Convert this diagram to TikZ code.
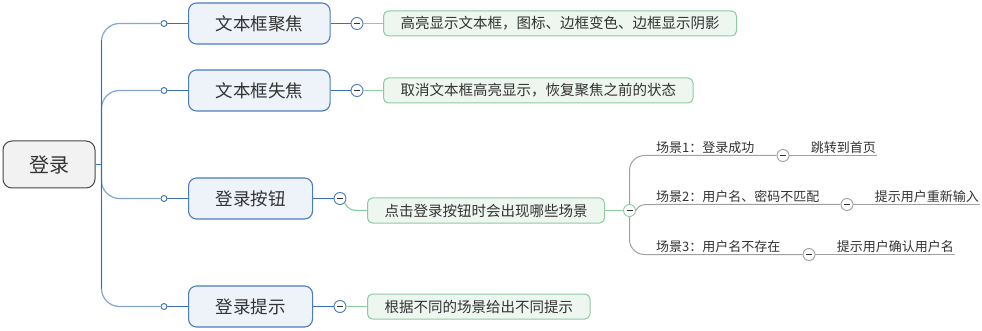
\documentclass[tikz,border=0pt]{standalone}
\usepackage{fontspec}
\setmainfont{Noto Sans CJK SC}
\usepackage{tikz}
\usetikzlibrary{positioning}
\definecolor{rootfill}{RGB}{242,242,242}
\definecolor{rootline}{RGB}{70,70,70}
\definecolor{topicfill}{RGB}{238,243,250}
\definecolor{topicline}{RGB}{74,124,192}
\definecolor{branch}{RGB}{58,110,181}
\definecolor{branchlight}{RGB}{130,165,212}
\definecolor{detailfill}{RGB}{238,246,240}
\definecolor{detailline}{RGB}{140,204,160}
\definecolor{leafline}{RGB}{160,160,160}
\definecolor{textgray}{RGB}{50,50,50}

\begin{document}
\begin{tikzpicture}[x=1pt, y=-1pt,
    root/.style={rectangle, rounded corners=9pt, draw=rootline, fill=rootfill, line width=1pt,
                 minimum width=92pt, minimum height=47pt, text=textgray,
                 font=\fontsize{20}{24}\selectfont},
    topic/.style={rectangle, rounded corners=8pt, draw=topicline, fill=topicfill, line width=1.1pt,
                  minimum height=41pt, inner xsep=27pt, anchor=west, text=textgray,
                  font=\fontsize{17.5}{21}\selectfont},
    detail/.style={rectangle, rounded corners=5pt, draw=detailline, fill=detailfill, line width=1pt,
                   minimum height=25pt, inner xsep=17pt, anchor=west, text=textgray,
                   font=\fontsize{14.5}{17}\selectfont},
    scene/.style={inner xsep=1pt, inner ysep=2pt, text=textgray, font=\fontsize{13}{15}\selectfont},
    dot/.style={circle, draw=branch, fill=white, line width=0.9pt, minimum size=6pt, inner sep=0pt},
    fold/.style={circle, draw=#1, fill=white, line width=0.9pt, minimum size=12pt, inner sep=0pt,
                 path picture={\draw[line width=1.5pt, textgray]
                   ([xshift=-3pt]path picture bounding box.center) --
                   ([xshift=3pt]path picture bounding box.center);}},
    blueline/.style={draw=branch, line width=1.2pt},
    greenline/.style={draw=detailline, line width=1.2pt},
    grayline/.style={draw=leafline, line width=1pt}
  ]
  \useasboundingbox (0,0) rectangle (982,331);

  % central topic
  \node[root] (login) at (49,164.5) {登录};
  \coordinate (hub) at (101.5,164.5);

  % main topics
  \node[topic] (focus) at (188,23.5) {文本框聚焦};
  \node[topic] (blur) at (188,90.5) {文本框失焦};
  \node[topic] (button) at (188,198.5) {登录按钮};
  \node[topic] (hint) at (188,306.5) {登录提示};

  \node[dot] (dfocus) at (164,23.5) {};
  \node[dot] (dblur) at (164,90.5) {};
  \node[dot] (dbutton) at (164,198.5) {};
  \node[dot] (dhint) at (164,306.5) {};

  \draw[blueline] (login.east) -- (hub);
  \foreach \t in {focus,blur,button,hint} {
    \draw[blueline, draw=branchlight, rounded corners=18pt] (hub) |- (d\t.west);
    \draw[blueline] (d\t.east) -- (\t.west);
  }
  \draw[blueline] (hub) -- ++(0,-124);
  \draw[blueline] (hub) -- ++(0,124);

  % fold markers
  \node[fold=topicline] (ffocus) at (357,23.5) {};
  \node[fold=topicline] (fblur) at (357,90.5) {};
  \node[fold=topicline] (fbutton) at (340,198.5) {};
  \node[fold=topicline] (fhint) at (340,306.5) {};

  % details
  \node[detail] (focusnote) at (383,23.5) {高亮显示文本框，图标、边框变色、边框显示阴影};
  \node[detail] (blurnote) at (383,90.5) {取消文本框高亮显示，恢复聚焦之前的状态};
  \node[detail] (buttonnote) at (367,210.5) {点击登录按钮时会出现哪些场景};
  \node[detail] (hintnote) at (367,306.5) {根据不同的场景给出不同提示};

  \foreach \t in {focus,blur,button,hint} {
    \draw[blueline] (\t.east) -- (f\t.west);
  }
  \draw[greenline] (ffocus.east) -- (focusnote.west);
  \draw[greenline] (fblur.east) -- (blurnote.west);
  \draw[greenline] (fbutton.south east) .. controls (350,210.5) .. (buttonnote.west);
  \draw[greenline] (fhint.east) -- (hintnote.west);

  % scenarios
  \node[fold=detailline] (fscene) at (629.5,210.5) {};
  \draw[greenline] (buttonnote.east) -- (fscene.west);

  \node[scene, anchor=south west] (ok) at (655,155.5) {场景1：登录成功};
  \node[scene, anchor=south west] (mismatch) at (655,204.5) {场景2：用户名、密码不匹配};
  \node[scene, anchor=south west] (nouser) at (655,254.5) {场景3：用户名不存在};

  \node[fold=leafline] (fok) at (783,155.5) {};
  \node[fold=leafline] (fmismatch) at (847,204.5) {};
  \node[fold=leafline] (fnouser) at (809,254.5) {};

  \draw[grayline, rounded corners=15pt] (fscene.north) |- (fok.west);
  \draw[grayline] (fscene.east) .. controls (640,204.5) .. (mismatch.south west) -- (fmismatch.west);
  \draw[grayline, rounded corners=15pt] (fscene.south) |- (fnouser.west);

  \node[scene, anchor=south east] (home) at (877,155.5) {跳转到首页};
  \node[scene, anchor=south east] (retry) at (980,204.5) {提示用户重新输入};
  \node[scene, anchor=south east] (check) at (955,254.5) {提示用户确认用户名};

  \draw[grayline] (fok.east) -- (home.south east);
  \draw[grayline] (fmismatch.east) -- (retry.south east);
  \draw[grayline] (fnouser.east) -- (check.south east);
\end{tikzpicture}
\end{document}
